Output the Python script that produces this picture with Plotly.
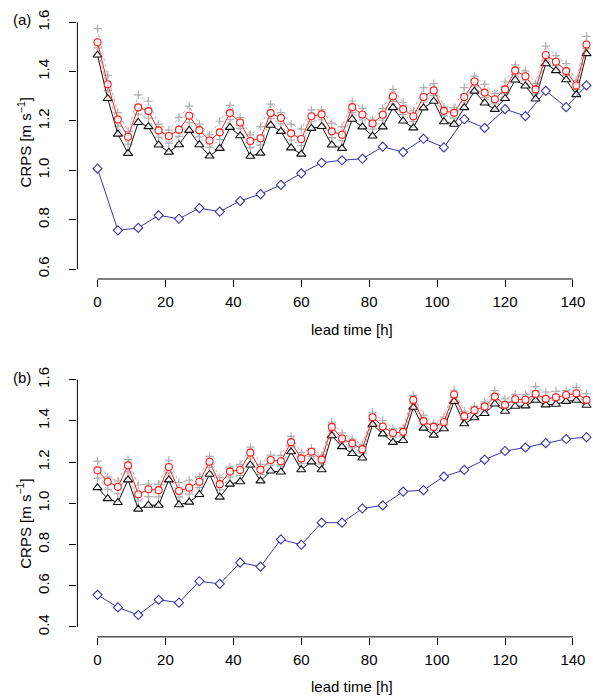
import plotly.graph_objects as go

# ---------------- data ----------------
lead3 = list(range(0, 145, 3))   # 0..144 every 3 h
lead6 = list(range(0, 145, 6))   # 0..144 every 6 h

x_ticks = [0, 20, 40, 60, 80, 100, 120, 140]
y_ticks_a = [0.6, 0.8, 1.0, 1.2, 1.4, 1.6]
y_ticks_b = [0.4, 0.6, 0.8, 1.0, 1.2, 1.4, 1.6]

# panel (a)
a_gray_up = [1.574, 1.385, 1.234, 1.158, 1.306, 1.280, 1.187, 1.163, 1.214, 1.260,
             1.187, 1.144, 1.199, 1.263, 1.214, 1.144, 1.177, 1.268, 1.234, 1.187,
             1.167, 1.245, 1.245, 1.191, 1.176, 1.281, 1.251, 1.204, 1.250, 1.328,
             1.275, 1.241, 1.335, 1.351, 1.257, 1.254, 1.335, 1.382, 1.348, 1.311,
             1.358, 1.427, 1.403, 1.351, 1.503, 1.465, 1.432, 1.364, 1.543]
a_gray_lo = [1.496, 1.323, 1.179, 1.106, 1.228, 1.212, 1.135, 1.110, 1.138, 1.194,
             1.136, 1.093, 1.125, 1.206, 1.170, 1.091, 1.103, 1.210, 1.188, 1.123,
             1.100, 1.197, 1.205, 1.133, 1.119, 1.234, 1.204, 1.167, 1.203, 1.279,
             1.226, 1.198, 1.277, 1.304, 1.221, 1.212, 1.277, 1.342, 1.296, 1.269,
             1.311, 1.387, 1.363, 1.310, 1.451, 1.424, 1.386, 1.327, 1.493]
a_red = [1.519, 1.349, 1.206, 1.136, 1.255, 1.240, 1.162, 1.139, 1.165, 1.221,
         1.163, 1.121, 1.154, 1.232, 1.194, 1.119, 1.130, 1.232, 1.212, 1.150,
         1.127, 1.219, 1.227, 1.158, 1.144, 1.256, 1.226, 1.190, 1.225, 1.300,
         1.248, 1.219, 1.297, 1.324, 1.241, 1.233, 1.297, 1.360, 1.315, 1.288,
         1.328, 1.405, 1.381, 1.328, 1.467, 1.440, 1.402, 1.344, 1.510]
a_black = [1.467, 1.291, 1.147, 1.069, 1.194, 1.177, 1.103, 1.074, 1.104, 1.162,
           1.104, 1.058, 1.089, 1.174, 1.140, 1.057, 1.070, 1.183, 1.158, 1.091,
           1.066, 1.170, 1.178, 1.103, 1.089, 1.207, 1.176, 1.139, 1.176, 1.254,
           1.200, 1.172, 1.253, 1.280, 1.197, 1.187, 1.254, 1.321, 1.273, 1.247,
           1.291, 1.366, 1.342, 1.289, 1.432, 1.404, 1.367, 1.307, 1.473]
a_blue = [1.007, 0.757, 0.767, 0.818, 0.804, 0.847, 0.833, 0.876, 0.904, 0.941,
          0.988, 1.031, 1.041, 1.047, 1.096, 1.074, 1.128, 1.093, 1.207, 1.172,
          1.248, 1.220, 1.322, 1.256, 1.344]

# panel (b)
b_gray_up = [1.205, 1.128, 1.109, 1.212, 1.089, 1.093, 1.093, 1.209, 1.101, 1.112,
             1.131, 1.228, 1.125, 1.176, 1.189, 1.273, 1.189, 1.234, 1.233, 1.325,
             1.246, 1.267, 1.234, 1.394, 1.342, 1.312, 1.286, 1.442, 1.402, 1.363,
             1.366, 1.524, 1.428, 1.389, 1.418, 1.550, 1.447, 1.471, 1.492, 1.547,
             1.507, 1.528, 1.528, 1.566, 1.540, 1.544, 1.547, 1.563, 1.531]
b_gray_lo = [1.122, 1.068, 1.046, 1.153, 1.012, 1.033, 1.031, 1.148, 1.030, 1.045,
             1.077, 1.175, 1.065, 1.127, 1.136, 1.219, 1.139, 1.186, 1.181, 1.276,
             1.193, 1.228, 1.190, 1.352, 1.297, 1.269, 1.244, 1.402, 1.357, 1.321,
             1.328, 1.486, 1.384, 1.353, 1.380, 1.513, 1.406, 1.435, 1.455, 1.502,
             1.464, 1.490, 1.490, 1.517, 1.494, 1.500, 1.512, 1.519, 1.490]
b_red = [1.160, 1.105, 1.080, 1.184, 1.044, 1.068, 1.064, 1.176, 1.060, 1.076,
         1.105, 1.202, 1.093, 1.154, 1.162, 1.246, 1.163, 1.210, 1.204, 1.297,
         1.218, 1.250, 1.212, 1.371, 1.315, 1.291, 1.263, 1.418, 1.373, 1.341,
         1.347, 1.502, 1.399, 1.371, 1.395, 1.528, 1.423, 1.452, 1.470, 1.518,
         1.478, 1.505, 1.503, 1.531, 1.507, 1.515, 1.526, 1.534, 1.502]
b_black = [1.076, 1.023, 1.004, 1.114, 0.972, 0.991, 0.991, 1.114, 0.993, 1.006,
           1.043, 1.141, 1.030, 1.093, 1.105, 1.186, 1.109, 1.157, 1.152, 1.250,
           1.163, 1.201, 1.163, 1.328, 1.275, 1.242, 1.220, 1.383, 1.337, 1.296,
           1.305, 1.466, 1.365, 1.331, 1.362, 1.495, 1.386, 1.415, 1.436, 1.482,
           1.447, 1.471, 1.473, 1.500, 1.478, 1.481, 1.495, 1.500, 1.476]
b_blue = [0.556, 0.495, 0.458, 0.532, 0.518, 0.622, 0.609, 0.712, 0.693, 0.825,
          0.799, 0.906, 0.906, 0.975, 0.990, 1.057, 1.064, 1.130, 1.162, 1.212,
          1.254, 1.271, 1.292, 1.312, 1.321]

# ---------------- style ----------------
FONT = "Liberation Sans, Arial, Helvetica, sans-serif"
GRAY = "#B0B0B0"
RED = "#FF1A1A"
BLACK = "#111111"
BLUE = "#3838A8"
W, H = 593, 696

fig = go.Figure()


def add_panel(xref, yref, gu, gl, red, black, blue):
    common = dict(xaxis=xref, yaxis=yref, showlegend=False, hoverinfo="skip")
    for g in (gu, gl):
        fig.add_trace(go.Scatter(x=lead3, y=g, mode="lines+markers",
                                 line=dict(color=GRAY, width=1, dash="3px,3px"),
                                 marker=dict(symbol="cross-thin", size=6,
                                             line=dict(color=GRAY, width=1.2)),
                                 **common))
    fig.add_trace(go.Scatter(x=lead3, y=black, mode="lines+markers",
                             line=dict(color=BLACK, width=1),
                             marker=dict(symbol="triangle-up", size=8, color="rgba(255,255,255,0.85)",
                                         line=dict(color=BLACK, width=1.1)),
                             **common))
    fig.add_trace(go.Scatter(x=lead3, y=red, mode="lines+markers",
                             line=dict(color=RED, width=1),
                             marker=dict(symbol="circle", size=7, color="rgba(255,255,255,0.85)",
                                         line=dict(color=RED, width=1.1)),
                             **common))
    fig.add_trace(go.Scatter(x=lead6, y=blue, mode="lines+markers",
                             line=dict(color=BLUE, width=1),
                             marker=dict(symbol="diamond", size=7, color="white",
                                         line=dict(color=BLUE, width=1.1)),
                             **common))


add_panel("x", "y", a_gray_up, a_gray_lo, a_red, a_black, a_blue)
add_panel("x2", "y2", b_gray_up, b_gray_lo, b_red, b_black, b_blue)

x_left_px, x0_px, px_per_h = 77.4, 97.5, 3.396
x_range = [(x_left_px - x0_px) / px_per_h, (W - x0_px) / px_per_h]

axis_font = dict(family=FONT, size=15, color="black")
xcommon = dict(range=x_range, domain=[x_left_px / W, 1.0], tickmode="array",
               tickvals=x_ticks, ticktext=[str(v) for v in x_ticks],
               ticks="outside", ticklen=7, tickwidth=1, tickcolor="black",
               showline=False, showgrid=False, zeroline=False,
               tickfont=axis_font, ticklabelstandoff=2)
ycommon = dict(tickmode="array", ticks="outside", ticklen=7, tickwidth=1,
               tickcolor="black", showline=False, showgrid=False, zeroline=False,
               tickfont=axis_font, tickangle=-90, ticklabelstandoff=14)

fig.update_layout(
    width=W, height=H, autosize=False,
    margin=dict(l=0, r=0, t=0, b=0),
    paper_bgcolor="white", plot_bgcolor="white",
    font=dict(family=FONT, size=15, color="black"),
    xaxis=dict(anchor="y", **xcommon),
    xaxis2=dict(anchor="y2", **xcommon),
    yaxis=dict(anchor="x", range=[0.56, 1.64], domain=[1 - 277.2 / H, 1 - 9.4 / H],
               tickvals=y_ticks_a, ticktext=[f"{v:.1f}" for v in y_ticks_a], **ycommon),
    yaxis2=dict(anchor="x2", range=[0.352, 1.648], domain=[1 - 636.6 / H, 1 - 368.4 / H],
                tickvals=y_ticks_b, ticktext=[f"{v:.1f}" for v in y_ticks_b], **ycommon),
)

# R-style axis lines spanning first to last tick
line_style = dict(color="black", width=1)
fig.add_shape(type="line", xref="x", yref="y domain", x0=x_ticks[0], x1=x_ticks[-1], y0=0, y1=0, line=line_style)
fig.add_shape(type="line", xref="x domain", yref="y", x0=0, x1=0, y0=y_ticks_a[0], y1=y_ticks_a[-1], line=line_style)
fig.add_shape(type="line", xref="x2", yref="y2 domain", x0=x_ticks[0], x1=x_ticks[-1], y0=0, y1=0, line=line_style)
fig.add_shape(type="line", xref="x2 domain", yref="y2", x0=0, x1=0, y0=y_ticks_b[0], y1=y_ticks_b[-1], line=line_style)

ylab = "CRPS [m s<sup>−1</sup>]"
xlab = "lead time [h]"
ann = [
    dict(text="(a)", x=22 / W, y=1 - 17 / H),
    dict(text="(b)", x=22 / W, y=1 - 376 / H),
    dict(text=xlab, x=352 / W, y=1 - 328 / H),
    dict(text=xlab, x=352 / W, y=1 - 686 / H),
    dict(text=ylab, x=24 / W, y=1 - 140 / H, textangle=-90),
    dict(text=ylab, x=24 / W, y=1 - 523 / H, textangle=-90),
]
for a in ann:
    fig.add_annotation(xref="paper", yref="paper", xanchor="center", yanchor="middle",
                       showarrow=False, font=dict(family=FONT, size=15, color="black"), **a)

fig.write_html("out.html", config={"displayModeBar": False},
               post_script="document.body.style.margin='0';document.body.style.overflow='hidden';")
